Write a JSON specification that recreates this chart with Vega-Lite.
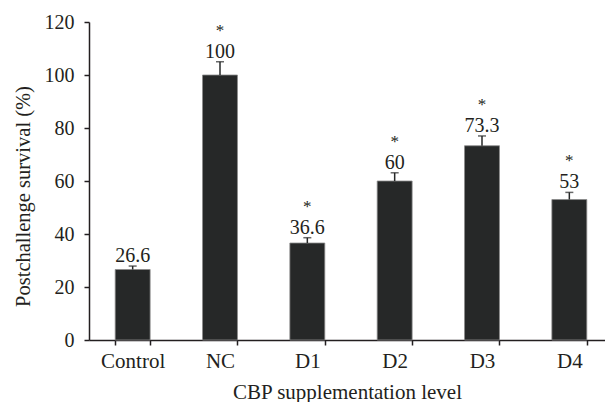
{
  "$schema": "https://vega.github.io/schema/vega-lite/v6.json",
  "width": 516,
  "height": 318,
  "autosize": "none",
  "padding": {"left": 89, "top": 22, "right": 0, "bottom": 62},
  "background": "white",
  "config": {
    "view": {"stroke": null},
    "font": "Liberation Serif",
    "axis": {
      "labelFont": "Liberation Serif",
      "titleFont": "Liberation Serif",
      "labelFontSize": 20,
      "titleFontSize": 20,
      "titleFontWeight": "normal",
      "labelColor": "#231f20",
      "titleColor": "#231f20",
      "domainColor": "#231f20",
      "tickColor": "#231f20",
      "domainWidth": 1.5,
      "tickWidth": 1.5,
      "grid": false
    }
  },
  "data": {
    "values": [
      {"group": "Control", "value": 26.6, "upper": 27.9, "star": ""},
      {"group": "NC", "value": 100, "upper": 105, "star": "*"},
      {"group": "D1", "value": 36.6, "upper": 38.6, "star": "*"},
      {"group": "D2", "value": 60, "upper": 63.1, "star": "*"},
      {"group": "D3", "value": 73.3, "upper": 77, "star": "*"},
      {"group": "D4", "value": 53, "upper": 55.7, "star": "*"}
    ]
  },
  "encoding": {
    "x": {
      "field": "group",
      "type": "nominal",
      "sort": null,
      "scale": {"range": [0, 524], "paddingInner": 0.6, "paddingOuter": 0.3},
      "axis": {
        "title": "CBP supplementation level",
        "labelAngle": 0,
        "labelFontSize": 21,
        "titleFontSize": 21,
        "tickBand": "extent",
        "tickSize": 5,
        "labelPadding": 5,
        "titlePadding": 10,
        "titleX": 258
      }
    }
  },
  "layer": [
    {
      "mark": {"type": "bar", "fill": "#262828", "stroke": "#8a8a8a", "strokeWidth": 0.8},
      "encoding": {
        "y": {
          "field": "value",
          "type": "quantitative",
          "scale": {"domain": [0, 120]},
          "axis": {
            "title": "Postchallenge survival (%)",
            "values": [0, 20, 40, 60, 80, 100, 120],
            "tickSize": 5,
            "labelPadding": 10,
            "titlePadding": 11,
            "titleFontSize": 20.5,
            "titleY": 174
          }
        }
      }
    },
    {
      "mark": {"type": "rule", "color": "#262828", "strokeWidth": 1.5},
      "encoding": {
        "y": {"field": "value", "type": "quantitative"},
        "y2": {"field": "upper"}
      }
    },
    {
      "mark": {"type": "tick", "color": "#262828", "size": 8, "thickness": 1.5},
      "encoding": {
        "y": {"field": "upper", "type": "quantitative"}
      }
    },
    {
      "mark": {"type": "text", "baseline": "alphabetic", "dy": -4, "fontSize": 20, "font": "Liberation Serif", "color": "#231f20"},
      "encoding": {
        "y": {"field": "upper", "type": "quantitative"},
        "text": {"field": "value", "type": "quantitative"}
      }
    },
    {
      "mark": {"type": "text", "baseline": "bottom", "dy": -22, "fontSize": 17, "font": "Liberation Serif", "color": "#231f20"},
      "encoding": {
        "y": {"field": "upper", "type": "quantitative"},
        "text": {"field": "star"}
      }
    }
  ]
}
